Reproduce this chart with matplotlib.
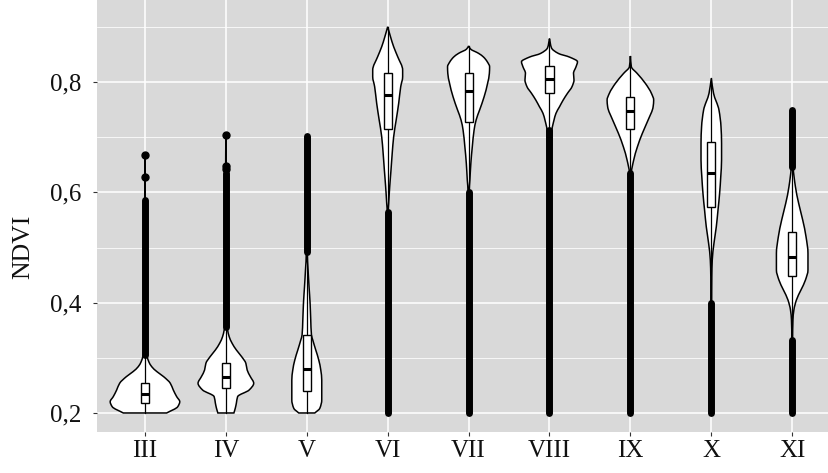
import numpy as np
import matplotlib
matplotlib.use("Agg")
import matplotlib.pyplot as plt
from matplotlib.patches import Rectangle, PathPatch
from matplotlib.path import Path

plt.rcParams['font.family'] = ['Liberation Serif', 'DejaVu Serif']

months = ["III", "IV", "V", "VI", "VII", "VIII", "IX", "X", "XI"]

# box statistics
q1 = [0.2176, 0.245, 0.240, 0.7155, 0.728, 0.781, 0.7144, 0.573, 0.4484]
med = [0.234, 0.265, 0.279, 0.7766, 0.784, 0.805, 0.748, 0.6346, 0.4834]
q3 = [0.255, 0.291, 0.341, 0.817, 0.816, 0.830, 0.7724, 0.692, 0.5287]
whisk_lo = [0.200, 0.200, 0.200, 0.564, 0.601, 0.713, 0.635, 0.399, 0.3324]
whisk_hi = [0.305, 0.356, 0.492, 0.9005, 0.8655, 0.879, 0.8473, 0.8069, 0.6466]

# violin outlines: NDVI values and half widths (in category units)
violin_y = [
    [0.200, 0.2114, 0.2205, 0.2296, 0.2417, 0.2539, 0.2658, 0.2749, 0.2840,
     0.2930, 0.3021, 0.314, 0.40, 0.58, 0.668],
    [0.200, 0.209, 0.218, 0.2296, 0.2417, 0.2539, 0.2658, 0.2780, 0.2901,
     0.3021, 0.3142, 0.3264, 0.3383, 0.3505, 0.3596, 0.50, 0.64, 0.705],
    [0.200, 0.2085, 0.2236, 0.2598, 0.2780, 0.2961, 0.3142, 0.3324, 0.3414,
     0.3686, 0.3989, 0.4290, 0.4593, 0.4896, 0.60, 0.703],
    [0.200, 0.40, 0.565, 0.5802, 0.6103, 0.6406, 0.6709, 0.7010, 0.7313,
     0.7616, 0.7917, 0.8098, 0.8219, 0.8461, 0.8642, 0.8823, 0.9005],
    [0.200, 0.40, 0.6013, 0.6225, 0.6528, 0.6829, 0.7131, 0.7313, 0.7494,
     0.7735, 0.7978, 0.8160, 0.8279, 0.8370, 0.8455, 0.8522, 0.860, 0.8655],
    [0.200, 0.50, 0.7131, 0.7313, 0.7434, 0.7554, 0.7675, 0.7797, 0.7917,
     0.8039, 0.8160, 0.8279, 0.8370, 0.8455, 0.852, 0.862, 0.879],
    [0.200, 0.45, 0.6346, 0.6588, 0.6829, 0.7072, 0.7313, 0.7554, 0.7675,
     0.7797, 0.7978, 0.8160, 0.8279, 0.8473],
    [0.200, 0.30, 0.399, 0.4471, 0.4774, 0.5077, 0.5378, 0.5681, 0.5984,
     0.6285, 0.6588, 0.6890, 0.7191, 0.7494, 0.7797, 0.8069],
    [0.200, 0.28, 0.3324, 0.3686, 0.3868, 0.4049, 0.4230, 0.4412, 0.4593,
     0.4896, 0.5197, 0.5500, 0.5802, 0.6103, 0.6466, 0.70, 0.749],
]
violin_w = [
    [0.268, 0.405, 0.430, 0.392, 0.350, 0.313, 0.231, 0.148, 0.083,
     0.047, 0.027, 0.012, 0.004, 0.003, 0.0],
    [0.099, 0.117, 0.130, 0.145, 0.288, 0.344, 0.303, 0.263, 0.247,
     0.195, 0.130, 0.077, 0.041, 0.021, 0.012, 0.004, 0.003, 0.0],
    [0.099, 0.161, 0.185, 0.185, 0.173, 0.148, 0.111, 0.074, 0.058,
     0.049, 0.041, 0.028, 0.016, 0.006, 0.003, 0.0],
    [0.003, 0.004, 0.006, 0.012, 0.025, 0.041, 0.056, 0.074, 0.105,
     0.136, 0.161, 0.185, 0.185, 0.124, 0.074, 0.035, 0.0],
    [0.003, 0.004, 0.007, 0.016, 0.028, 0.046, 0.068, 0.093, 0.136,
     0.192, 0.235, 0.257, 0.260, 0.231, 0.185, 0.124, 0.025, 0.0],
    [0.003, 0.006, 0.031, 0.056, 0.080, 0.124, 0.169, 0.222, 0.278,
     0.303, 0.297, 0.328, 0.346, 0.247, 0.111, 0.025, 0.0],
    [0.003, 0.005, 0.012, 0.041, 0.087, 0.148, 0.219, 0.281, 0.288,
     0.260, 0.185, 0.083, 0.012, 0.0],
    [0.003, 0.003, 0.004, 0.006, 0.012, 0.033, 0.062, 0.083, 0.103,
     0.117, 0.127, 0.127, 0.120, 0.095, 0.028, 0.0],
    [0.003, 0.003, 0.004, 0.009, 0.021, 0.052, 0.108, 0.164, 0.195,
     0.195, 0.171, 0.130, 0.080, 0.040, 0.012, 0.004, 0.0],
]

# outliers: dense runs (drawn as thick bars) and single points
outlier_runs = [
    [(0.305, 0.586)],
    [(0.356, 0.635)],
    [(0.492, 0.703)],
    [(0.200, 0.564)],
    [(0.200, 0.601)],
    [(0.200, 0.713)],
    [(0.200, 0.635)],
    [(0.200, 0.399)],
    [(0.200, 0.3324), (0.6466, 0.749)],
]
outlier_pts = [
    [0.628, 0.668],
    [0.643, 0.648, 0.705],
    [], [], [], [], [], [], [],
]


def side_curve(w, y):
    # monotone cubic (pchip-style) through the read points, as bezier pieces
    h = np.diff(y)
    d = np.diff(w) / h
    m = np.zeros_like(w)
    m[0], m[-1] = d[0], d[-1]
    for k in range(1, len(w) - 1):
        if d[k - 1] * d[k] <= 0:
            m[k] = 0.0
        else:
            a = 2 * h[k] + h[k - 1]
            b = h[k] + 2 * h[k - 1]
            m[k] = (a + b) / (a / d[k - 1] + b / d[k])
    seq = [(w[0], y[0])]
    for k in range(len(w) - 1):
        seq.append((w[k] + m[k] * h[k] / 3, y[k] + h[k] / 3))
        seq.append((w[k + 1] - m[k + 1] * h[k] / 3, y[k + 1] - h[k] / 3))
        seq.append((w[k + 1], y[k + 1]))
    return seq


W, H = 829, 473
fig = plt.figure(figsize=(W / 100, H / 100), dpi=100)
ax = fig.add_axes([97 / W, 41 / H, 1 - 97 / W, 432 / H])
ax.set_facecolor('#D9D9D9')

pos = np.arange(1, len(months) + 1)
for i, x in enumerate(pos):
    seq = side_curve(np.array(violin_w[i], float), np.array(violin_y[i], float))
    n = len(seq)
    right = [(x + a, b) for a, b in seq]
    left = [(x - a, b) for a, b in seq[::-1]]
    verts = right + left + [right[0]]
    codes = ([Path.MOVETO] + [Path.CURVE4] * (n - 1) + [Path.LINETO]
             + [Path.CURVE4] * (n - 1) + [Path.CLOSEPOLY])
    ax.add_patch(PathPatch(Path(verts, codes), facecolor='white',
                           edgecolor='black', lw=1.1, zorder=2))

    # whiskers and box
    ax.plot([x, x], [q3[i], whisk_hi[i]], color='black', lw=0.9, zorder=3)
    ax.plot([x, x], [whisk_lo[i], q1[i]], color='black', lw=0.9, zorder=3)
    ax.add_patch(Rectangle((x - 0.05, q1[i]), 0.1, q3[i] - q1[i],
                           facecolor='white', edgecolor='black', lw=1.0, zorder=3))
    ax.plot([x - 0.05, x + 0.05], [med[i], med[i]], color='black', lw=2.2,
            solid_capstyle='butt', zorder=3.5)

    for lo, hi in outlier_runs[i]:
        ax.plot([x, x], [lo, hi], color='black', lw=5, solid_capstyle='round', zorder=4)
    if outlier_pts[i]:
        ax.plot([x] * len(outlier_pts[i]), outlier_pts[i], 'o', color='black',
                ms=5, zorder=4)

ax.set_xlim(0.407, 9.455)
ax.set_ylim(0.1655, 0.949)
ax.set_xticks(pos)
ax.set_xticklabels(months)
ax.set_yticks([0.2, 0.4, 0.6, 0.8])
ax.set_yticklabels(["0,2", "0,4", "0,6", "0,8"])
ax.set_yticks([0.3, 0.5, 0.7, 0.9], minor=True)

ax.grid(True, which='major', color='white', lw=1.1, zorder=0)
ax.grid(True, which='minor', axis='y', color='white', lw=0.55, zorder=0)
ax.set_axisbelow(True)
for s in ax.spines.values():
    s.set_visible(False)
ax.tick_params(axis='both', which='major', length=3, width=0.8, color='#333333',
               labelsize=18, labelcolor='#111111')
ax.tick_params(axis='x', pad=3)
ax.tick_params(axis='y', pad=8)
ax.tick_params(which='minor', length=0)

ax.set_ylabel("NDVI", fontsize=18.5, color='#111111')
ax.yaxis.set_label_coords(-0.085, 1 - 247 / 432)

fig.savefig("out.png", dpi=100)
